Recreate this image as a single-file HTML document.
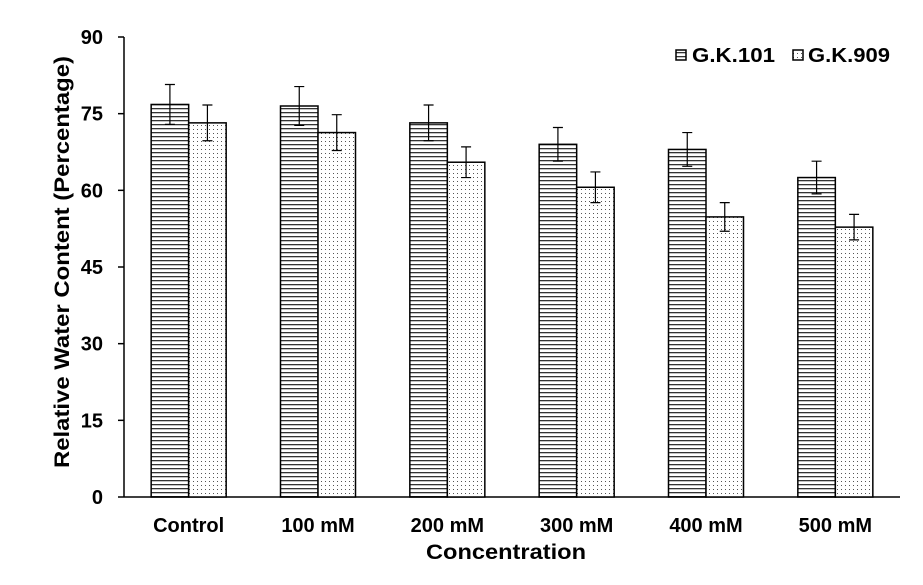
<!DOCTYPE html>
<html><head><meta charset="utf-8"><style>body{margin:0;background:#fff}svg{display:block}text{font-family:"Liberation Sans",Arial,sans-serif;font-weight:bold;fill:#000}</style></head>
<body>
<svg width="923" height="585">
<defs>
<pattern id="hz" width="4" height="4" patternUnits="userSpaceOnUse"><rect width="4" height="4" fill="#fff"/><rect y="0" width="4" height="1.3" fill="#333"/></pattern>
<pattern id="dt" width="4" height="4" patternUnits="userSpaceOnUse"><rect width="4" height="4" fill="#fff"/><rect x="1" y="1" width="1" height="1" fill="#555"/></pattern>
</defs>
<g id="g"></g>
</svg>
<script>
const categories=["Control","100 mM","200 mM","300 mM","400 mM","500 mM"];
const gk101=[76.8,76.5,73.2,69.0,68.0,62.5];
const gk101Err=[3.9,3.8,3.5,3.3,3.3,3.2];
const gk909=[73.2,71.3,65.5,60.6,54.8,52.8];
const gk909Err=[3.5,3.5,3.0,3.0,2.8,2.5];
const yTicks=[0,15,30,45,60,75,90];
const g=document.getElementById('g');
const NS='http://www.w3.org/2000/svg';
const x0=124,x1=900,yb=497,yt=37;
const y=v=>yb-(v/90)*(yb-yt);
const gw=(x1-x0)/categories.length;
const cx=i=>x0+gw*(i+0.5);
function el(t,a,txt){const e=document.createElementNS(NS,t);for(const k in a)e.setAttribute(k,a[k]);if(txt!=null)e.textContent=txt;g.appendChild(e);return e;}
let e;
e=el('line',{x1:x0,y1:yt,x2:x0,y2:yb,stroke:'#000','stroke-width':1.5});


e=el('line',{x1:x0,y1:yb,x2:x1,y2:yb,stroke:'#000','stroke-width':1.5});


yTicks.forEach(t=>{
 e=el('line',{x1:x0-6,y1:y(t),x2:x0,y2:y(t),stroke:'#000','stroke-width':1.5});
 
 
 e=el('text',{x:103,y:y(t)+7,'text-anchor':'end','font-size':20},t);
 
 
});
const bw=37.5;
function bar(v,er,xl,fill,name){
 e=el('rect',{x:xl,y:y(v),width:bw,height:yb-y(v),fill:fill,stroke:'#000','stroke-width':1.5});
 
 
 const mx=xl+bw/2;
 e=el('path',{d:`M${mx},${y(v+er)}V${y(v-er)}M${mx-5},${y(v+er)}H${mx+5}M${mx-5},${y(v-er)}H${mx+5}`,stroke:'#000','stroke-width':1.2,fill:'none'});
 
 
}
categories.forEach((c,i)=>{
 bar(gk101[i],gk101Err[i],cx(i)-bw,'url(#hz)','bar-gk101');
 bar(gk909[i],gk909Err[i],cx(i),'url(#dt)','bar-gk909');
 e=el('text',{x:cx(i),y:532,'text-anchor':'middle','font-size':20},c);
 
 
});
e=el('text',{x:506,y:559,'text-anchor':'middle','font-size':21,textLength:160,lengthAdjust:'spacingAndGlyphs'},'Concentration');


e=el('text',{x:0,y:0,'text-anchor':'middle','font-size':21,textLength:412,lengthAdjust:'spacingAndGlyphs',transform:'translate(69,262) rotate(-90)'},'Relative Water Content (Percentage)');


e=el('rect',{x:676,y:50,width:10,height:10,fill:'url(#hz)',stroke:'#000','stroke-width':1.5});


e=el('text',{x:692,y:62,'font-size':20,textLength:83,lengthAdjust:'spacingAndGlyphs'},'G.K.101');


e=el('rect',{x:793,y:50,width:10,height:10,fill:'url(#dt)',stroke:'#000','stroke-width':1.5});


e=el('text',{x:808,y:62,'font-size':20,textLength:82,lengthAdjust:'spacingAndGlyphs'},'G.K.909');


</script>
</body></html>
